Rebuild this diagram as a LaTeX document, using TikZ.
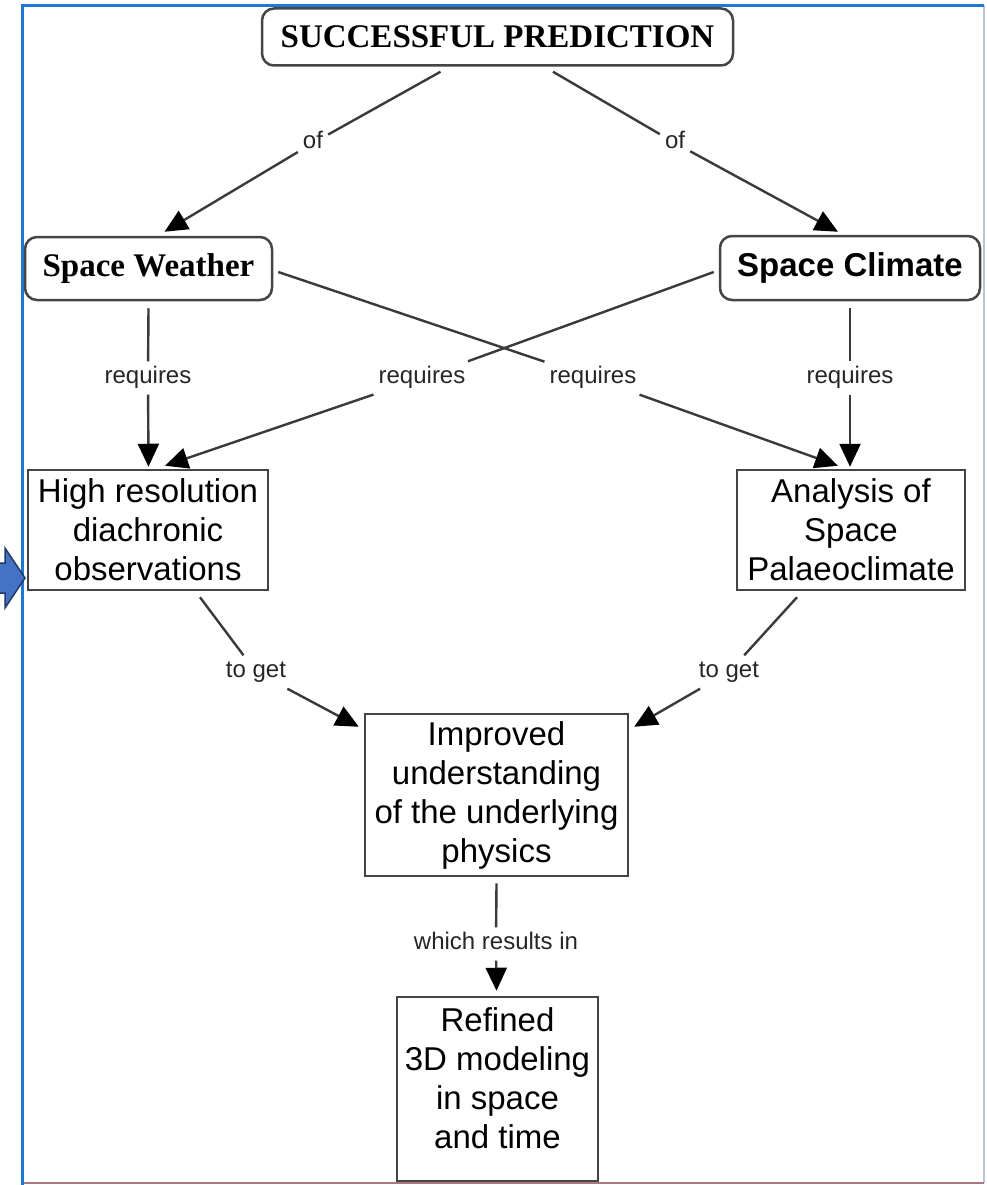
\documentclass[tikz,border=0pt]{standalone}
\usepackage{fontspec}
\setmainfont{Liberation Serif}
\setsansfont{Liberation Sans}
\usetikzlibrary{arrows.meta,calc}
\definecolor{linegray}{HTML}{3A3A3A}
\definecolor{boxgray}{HTML}{454545}
\definecolor{framblue}{HTML}{1F78D1}
\definecolor{framgray}{HTML}{B8C4CE}
\definecolor{framred}{HTML}{A8787F}
\definecolor{arrowfill}{HTML}{4472C4}
\definecolor{arrowedge}{HTML}{1F3864}
\begin{document}
\begin{tikzpicture}[x=1pt,y=-1pt,
  line/.style={draw=linegray, line width=2.4pt},
  arr/.style={line, -{Triangle[length=23pt,width=21pt,color=black]}},
  rbox/.style={draw=boxgray, line width=2.5pt, rounded corners=12pt, inner sep=0pt, fill=white},
  sbox/.style={draw=boxgray, line width=2.5pt, inner sep=0pt, fill=white, align=center,
    font=\sffamily\fontsize{33}{39}\selectfont},
  txt/.style={align=center, inner sep=0pt, font=\sffamily\fontsize{33}{39}\selectfont},
  lbl/.style={font=\sffamily\fontsize{24}{28}\selectfont, text=black!85, inner sep=5pt,
    text height=17pt, text depth=6pt}
]
\useasboundingbox (0,0) rectangle (986,1185);
\fill[white] (0,0) rectangle (986,1185);

% frame
\draw[framgray, line width=2pt] (984,5) -- (984,1183);
\draw[framred, line width=2.5pt] (22,1183) -- (984,1183);
\draw[framblue, line width=2.5pt] (22.5,1185) -- (22.5,5.5) -- (984,5.5);

% concepts
\node[rbox, minimum width=471pt, minimum height=57pt,
  font=\rmfamily\bfseries\fontsize{33}{39}\selectfont] (sp) at (497.5,37) {SUCCESSFUL PREDICTION};
\node[rbox, minimum width=247pt, minimum height=63pt,
  font=\rmfamily\bfseries\fontsize{33}{39}\selectfont] (sw) at (148.5,268.5) {Space Weather};
\node[rbox, minimum width=260pt, minimum height=64pt,
  font=\sffamily\bfseries\fontsize{33}{39}\selectfont] (sc) at (850,268) {Space Climate};
\node[sbox, minimum width=240pt, minimum height=120pt] (hr) at (148,530)
  {High resolution\\diachronic\\observations};
\node[sbox, minimum width=228pt, minimum height=120pt] (an) at (851,530)
  {Analysis of\\Space\\Palaeoclimate};
\node[sbox, minimum width=263pt, minimum height=162pt] (imp) at (496.5,795)
  {Improved\\understanding\\of the underlying\\physics};
\node[sbox, minimum width=201pt, minimum height=184pt] (ref) at (497.5,1089) {};
\node[txt] (reftxt) at (497.5,1078) {Refined\\3D modeling\\in space\\and time};

% linking phrases
\node[lbl] (of1) at (313,143) {of};
\node[lbl] (of2) at (675,143) {of};
\node[lbl] (rq1) at (148,378) {requires};
\node[lbl] (rq2) at (422,378) {requires};
\node[lbl] (rq3) at (593,378) {requires};
\node[lbl] (rq4) at (850,378) {requires};
\node[lbl] (tg1) at (256,672) {to get};
\node[lbl] (tg2) at (729,672) {to get};
\node[lbl] (wr) at (496,944) {which results in};

% connections
\draw[line] ($(sp.south)+(-57,5)$) -- (of1);
\draw[arr] (of1) -- ($(sw.north)+(16,-4)$);
\draw[line] ($(sp.south)+(55.5,5)$) -- (of2);
\draw[arr] (of2) -- ($(sc.north)+(-12,-3)$);

\draw[line] ($(sw.south)+(0,7)$) -- (rq1);
\draw[arr] (rq1) -- ($(hr.north)+(0.5,-2)$);
\draw[line] ($(sc.south)+(0,7)$) -- (rq4);
\draw[arr] (rq4) -- ($(an.north)+(-1,-2)$);

\draw[line] ($(sc.west)+(-5,4)$) -- (rq2);
\draw[arr] (rq2) -- ($(hr.north)+(17,-3)$);
\draw[line] ($(sw.east)+(5,3.5)$) -- (rq3);
\draw[arr] (rq3) -- ($(an.north)+(-13,-3)$);

\draw[line] ($(hr.south)+(52,6)$) -- (tg1);
\draw[arr] (tg1) -- ($(imp.north west)+(-5,14)$);
\draw[line] ($(an.south)+(-54,6)$) -- (tg2);
\draw[arr] (tg2) -- ($(imp.north east)+(5,14)$);

\draw[line] ($(imp.south)+(0,6)$) -- (wr);
\draw[arr] (wr) -- ($(ref.north)+(-1,-5)$);

% pointer arrow at the left edge
\draw[fill=arrowfill, draw=arrowedge, line width=1.5pt, line join=miter]
  (-2,563) -- (5,563) -- (5,548) -- (25,578) -- (5,608) -- (5,593) -- (-2,593) -- cycle;
\end{tikzpicture}
\end{document}
